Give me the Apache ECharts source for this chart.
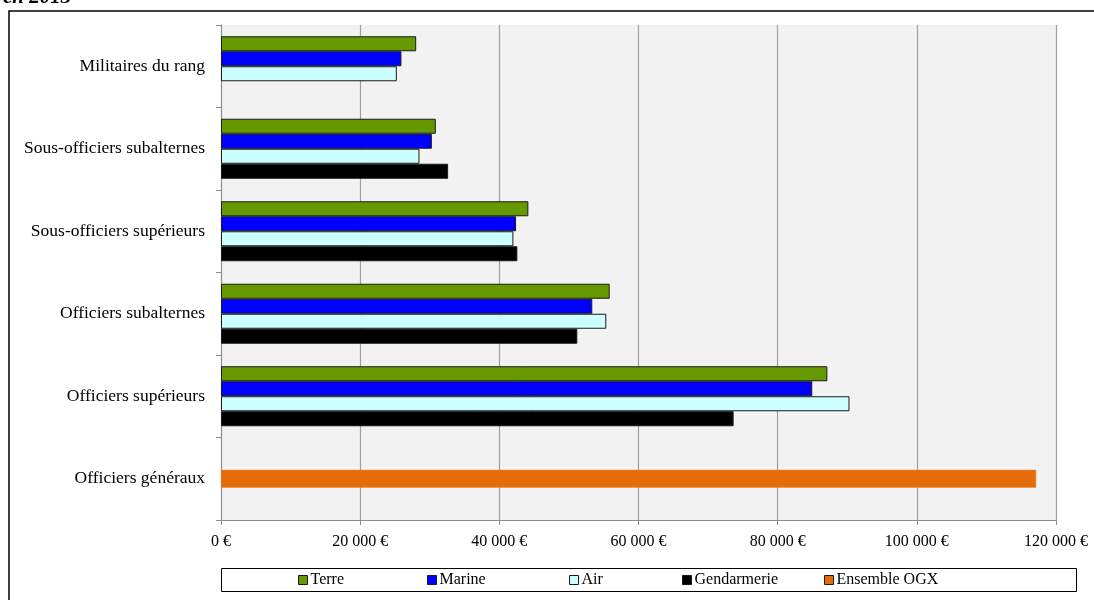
<!DOCTYPE html>
<html>
<head>
<meta charset="utf-8">
<script src="https://cdn.jsdelivr.net/npm/echarts@6/dist/echarts.min.js"></script>
<style>
  html, body { margin: 0; padding: 0; background: #fff; }
  #chart { width: 1094px; height: 600px; }
</style>
</head>
<body>
<div id="chart"></div>
<script>
var categories = ['Militaires du rang', 'Sous-officiers subalternes', 'Sous-officiers supérieurs',
	'Officiers subalternes', 'Officiers supérieurs', 'Officiers généraux'];
var terre = [28050, 30870, 44170, 55860, 87140, null];
var marine = [25930, 30300, 42400, 53360, 84970, null];
var air = [25270, 28520, 42020, 55370, 90320, null];
var gendarmerie = [null, 32640, 42590, 51210, 73670, null];
var ensembleOGX = [null, null, null, null, null, 117150];
var xTicks = [0, 20000, 40000, 60000, 80000, 100000, 120000];

var font = 'Liberation Serif';
var chart = echarts.init(document.getElementById('chart'), null, {renderer: 'canvas'});

function euro(v) {
	return String(v).replace(/\B(?=(\d{3})+(?!\d))/g, ' ') + ' €';
}

function barSeries(name, data, color) {
	return {
		name: name,
		type: 'bar',
		yAxisIndex: 0,
		data: data,
		barWidth: 15,
		barGap: '0%',
		itemStyle: {color: color, borderColor: '#1a1a1a', borderWidth: 1},
		animation: false
	};
}

// one legend per item, so each can sit where it is in the picture
var legendLeft = [298, 427, 569, 682, 824];
var names = ['Terre', 'Marine', 'Air', 'Gendarmerie', 'Ensemble OGX'];
var legends = names.map(function(n, i) {
	return {
		data: [n],
		left: legendLeft[i],
		top: 572,
		icon: 'rect',
		itemWidth: 9,
		itemHeight: 9,
		itemGap: 0,
		padding: 0,
		selectedMode: false,
		itemStyle: {borderColor: '#1a1a1a', borderWidth: 1},
		textStyle: {fontFamily: font, fontSize: 16, color: '#000', padding: [0, 0, 0, -2]}
	};
});

var option = {
	backgroundColor: '#fff',
	animation: false,
	legend: legends,
	grid: {
		left: 221, right: 38, top: 25, bottom: 80,
		show: true, backgroundColor: '#F2F2F2', borderWidth: 0
	},
	xAxis: {
		type: 'value',
		min: 0, max: 120000, interval: 20000,
		axisLine: {show: true, lineStyle: {color: '#8c8c8c', width: 1}},
		axisTick: {show: true, length: 5, lineStyle: {color: '#8c8c8c'}},
		splitLine: {show: true, lineStyle: {color: '#a0a0a0', width: 1.2}},
		axisLabel: {
			fontFamily: font, fontSize: 16, color: '#000', margin: 14,
			formatter: function(v) { return xTicks.indexOf(v) >= 0 ? euro(v) : ''; }
		}
	},
	yAxis: [{
		type: 'category',
		data: categories,
		inverse: true,
		axisLine: {show: true, lineStyle: {color: '#8c8c8c', width: 1}},
		axisTick: {show: true, length: 5, inside: false, lineStyle: {color: '#8c8c8c'}},
		splitLine: {show: false},
		axisLabel: {fontFamily: font, fontSize: 17.5, color: '#000', margin: 16}
	}, {
		type: 'category',
		data: categories,
		inverse: true,
		position: 'left',
		show: false
	}],
	series: [
		barSeries('Terre', terre, '#669900'),
		barSeries('Marine', marine, '#0000FF'),
		barSeries('Air', air, '#CCFFFF'),
		barSeries('Gendarmerie', gendarmerie, '#000000'),
		{
			name: 'Ensemble OGX',
			type: 'bar',
			yAxisIndex: 1,
			data: ensembleOGX,
			barWidth: 18,
			itemStyle: {color: '#E46C0A', borderColor: '#F08A3A', borderWidth: 0.5}
		}
	],
	graphic: [
		{
			type: 'rect', silent: true, z: 100,
			shape: {x: 9, y: 11, width: 1200, height: 700},
			style: {fill: 'none', stroke: '#000', lineWidth: 1.5}
		},
		{
			type: 'rect', silent: true, z: 100,
			shape: {x: 221.5, y: 568.5, width: 855, height: 23},
			style: {fill: 'none', stroke: '#000', lineWidth: 1}
		},
		{
			type: 'text', silent: true, z: 100,
			x: 3, y: 8,
			style: {
				text: 'en 2013', fill: '#000',
				font: 'italic bold 21px "Liberation Serif"',
				verticalAlign: 'bottom'
			}
		}
	]
};
chart.setOption(option);
</script>
</body>
</html>
